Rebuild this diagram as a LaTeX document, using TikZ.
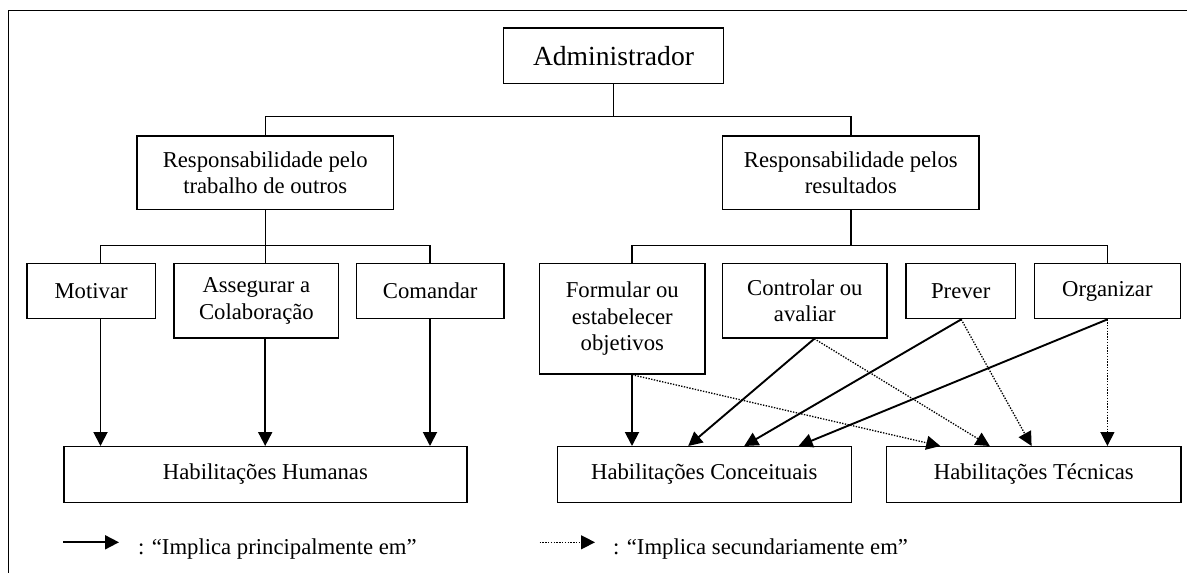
\documentclass[tikz,border=0pt]{standalone}
\usepackage{fontspec}
\setmainfont{Liberation Serif}
\usetikzlibrary{arrows.meta}
\begin{document}
\begin{tikzpicture}[x=1pt,y=-1pt,
  box/.style={draw, line width=1.4pt, inner sep=0pt, align=center,
    font=\fontsize{22.7}{26.5}\selectfont},
  conn/.style={line width=1.4pt},
  arr/.style={line width=1.9pt, -{Triangle[length=14pt,width=14pt]}},
  darr/.style={line width=1.3pt, dash pattern=on 1.4pt off 1.4pt, -{Triangle[length=14pt,width=14pt]}},
  leg/.style={inner sep=0pt, anchor=base west, font=\fontsize{22.7}{26.5}\selectfont}]
\useasboundingbox (0,0) rectangle (1187,573);
% frame
\coordinate (fa) at (8.4,573);
\coordinate (fb) at (8.4,10.3);
\coordinate (fc) at (1187,10.3);
\draw[line width=1.4pt] (fa) -- (fb) -- (fc);

% nodes
\node[box, minimum width=220pt, minimum height=55.3pt, font=\fontsize{27.6}{32}\selectfont] (admin) at (613.5,55.7) {Administrador};
\node[box, minimum width=256.4pt, minimum height=73.3pt] (resp1) at (265.2,172.7) {Responsabilidade pelo\\trabalho de outros};
\node[box, minimum width=256.6pt, minimum height=73.3pt] (resp2) at (850.8,172.7) {Responsabilidade pelos\\resultados};
\node[box, minimum width=128.6pt, minimum height=55.4pt] (motivar) at (91.1,291) {Motivar};
\node[box, minimum width=164.6pt, minimum height=74.7pt] (assegurar) at (256.4,300.7) {Assegurar a\\Colaboração};
\node[box, minimum width=147.7pt, minimum height=55.4pt] (comandar) at (430.2,291) {Comandar};
\node[box, minimum width=165.5pt, minimum height=110.7pt] (formular) at (622.3,318.7) {Formular ou\\estabelecer\\objetivos};
\node[box, minimum width=164.5pt, minimum height=74.7pt] (controlar) at (804.8,300.7) {Controlar ou\\avaliar};
\node[box, minimum width=109.3pt, minimum height=55.4pt] (prever) at (960.7,291) {Prever};
\node[box, minimum width=146.2pt, minimum height=55.4pt] (organizar) at (1107.4,291) {Organizar};
\node[box, minimum width=402.9pt, minimum height=55.6pt] (humanas) at (265.4,474.5) {Habilitações Humanas};
\node[box, minimum width=293.9pt, minimum height=55.6pt] (conceituais) at (704.3,474.5) {Habilitações Conceituais};
\node[box, minimum width=294.3pt, minimum height=55.6pt] (tecnicas) at (1033.8,474.5) {Habilitações Técnicas};

% tree connectors
\coordinate (j0) at (613.5,116.7);
\draw[conn] (admin.south) -- (j0);
\draw[conn] (resp1.north) |- (j0) -| (resp2.north);

\coordinate (j1) at (265.2,245.7);
\coordinate (xm) at (100.5,0);
\coordinate (xa) at (265.2,0);
\coordinate (xc) at (430,0);
\draw[conn] (resp1.south) -- (j1);
\draw[conn] (motivar.north -| xm) |- (j1) -| (comandar.north -| xc);
\draw[conn] (j1) -- (assegurar.north -| xa);

\coordinate (j2) at (850.8,245.7);
\coordinate (xf) at (632,0);
\coordinate (xk) at (814.3,0);
\coordinate (xp) at (961.2,0);
\coordinate (xo) at (1107.4,0);
\draw[conn] (resp2.south) -- (j2);
\draw[conn] (formular.north -| xf) |- (j2) -| (organizar.north -| xo);
\draw[conn] (controlar.north -| xk) -- (controlar.north -| xk |- j2);
\draw[conn] (prever.north -| xp) -- (prever.north -| xp |- j2);

% arrows to Habilitacoes Humanas
\draw[arr] (motivar.south -| xm) -- (humanas.north -| xm);
\draw[arr] (assegurar.south -| xa) -- (humanas.north -| xa);
\draw[arr] (comandar.south -| xc) -- (humanas.north -| xc);

% targets
\coordinate (c1) at (688.2,0);
\coordinate (c2) at (744.2,0);
\coordinate (c3) at (798.6,0);
\coordinate (t1) at (940.3,0);
\coordinate (t2) at (989.8,0);
\coordinate (t3) at (1031.6,0);

\draw[arr] (formular.south -| xf) -- (conceituais.north -| xf);
\draw[darr] (formular.south -| xf) -- (tecnicas.north -| t1);
\draw[arr] (controlar.south -| xk) -- (conceituais.north -| c1);
\draw[darr] (controlar.south -| xk) -- (tecnicas.north -| t2);
\draw[arr] (prever.south -| xp) -- (conceituais.north -| c2);
\draw[darr] (prever.south -| xp) -- (tecnicas.north -| t3);
\draw[arr] (organizar.south -| xo) -- (conceituais.north -| c3);
\draw[darr] (organizar.south -| xo) -- (tecnicas.north -| xo);

% legend
\coordinate (la) at (63,542.3);
\coordinate (lb) at (119,542.3);
\coordinate (lc) at (539.6,542.3);
\coordinate (ld) at (595,542.3);
\draw[arr] (la) -- (lb);
\draw[darr] (lc) -- (ld);
\node[leg] (l1) at (137.8,554) {: “Implica principalmente em”};
\node[leg] (l2) at (612.8,554) {: “Implica secundariamente em”};
\end{tikzpicture}
\end{document}
